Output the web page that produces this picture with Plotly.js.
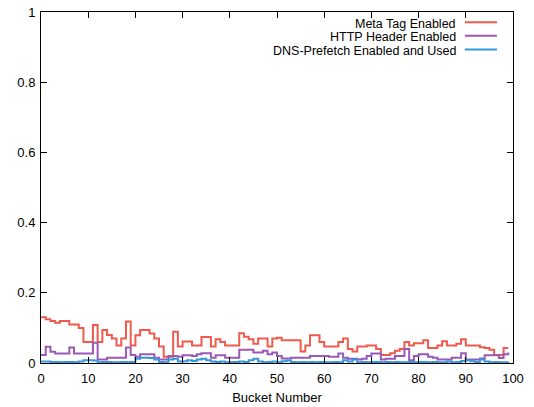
<!DOCTYPE html>
<html><head><meta charset="utf-8">
<script src="https://cdn.plot.ly/plotly-3.0.1.min.js"></script>
<style>html,body{margin:0;padding:0;background:#fff}#chart{width:534px;height:407px}</style>
</head><body><div id="chart"></div>
<script>
const seriesNames = ["Meta Tag Enabled", "HTTP Header Enabled", "DNS-Prefetch Enabled and Used"];
const buckets = Array.from({length: 100}, (_, i) => i);
const metaTag = [
 0.130,0.125,0.120,0.115,0.120,0.120,0.110,0.110,0.100,0.060,
 0.060,0.108,0.060,0.094,0.080,0.070,0.050,0.070,0.118,0.050,
 0.079,0.094,0.094,0.084,0.070,0.047,0.018,0.018,0.089,0.047,
 0.061,0.061,0.050,0.050,0.074,0.074,0.047,0.068,0.060,0.050,
 0.050,0.050,0.085,0.075,0.068,0.055,0.070,0.070,0.047,0.070,
 0.072,0.065,0.065,0.065,0.065,0.033,0.050,0.079,0.079,0.060,
 0.047,0.047,0.047,0.060,0.070,0.040,0.033,0.047,0.047,0.050,
 0.050,0.040,0.023,0.023,0.028,0.035,0.040,0.060,0.050,0.056,
 0.056,0.065,0.043,0.043,0.050,0.062,0.050,0.050,0.055,0.068,
 0.050,0.050,0.050,0.045,0.043,0.038,0.023,0.023,0.043,0.043
];
const httpHeader = [
 0.023,0.046,0.032,0.027,0.027,0.027,0.044,0.027,0.027,0.027,
 0.027,0.058,0.010,0.010,0.015,0.015,0.015,0.015,0.044,0.023,
 0.018,0.025,0.025,0.025,0.015,0.010,0.010,0.020,0.020,0.018,
 0.022,0.022,0.020,0.025,0.028,0.028,0.015,0.022,0.022,0.015,
 0.015,0.015,0.038,0.038,0.038,0.030,0.030,0.035,0.025,0.030,
 0.020,0.013,0.013,0.015,0.015,0.015,0.015,0.020,0.020,0.020,
 0.020,0.018,0.018,0.027,0.015,0.012,0.012,0.010,0.012,0.020,
 0.027,0.027,0.010,0.012,0.012,0.020,0.020,0.040,0.008,0.020,
 0.025,0.025,0.018,0.015,0.010,0.010,0.010,0.015,0.015,0.028,
 0.010,0.010,0.010,0.013,0.022,0.022,0.022,0.014,0.025,0.030
];
const dnsPrefetch = [
 0.004,0.004,0.003,0.003,0.002,0.003,0.003,0.002,0.004,0.008,
 0.008,0.007,0.002,0.003,0.003,0.002,0.002,0.003,0.002,0.003,
 0.012,0.015,0.015,0.014,0.010,0.003,0.002,0.010,0.012,0.004,
 0.005,0.008,0.006,0.010,0.012,0.008,0.004,0.003,0.004,0.002,
 0.003,0.003,0.004,0.003,0.008,0.012,0.004,0.002,0.003,0.004,
 0.002,0.005,0.007,0.003,0.002,0.003,0.002,0.003,0.002,0.003,
 0.002,0.002,0.003,0.002,0.008,0.004,0.010,0.002,0.003,0.002,
 0.003,0.003,0.002,0.003,0.002,0.003,0.002,0.002,0.003,0.002,
 0.003,0.003,0.002,0.003,0.002,0.002,0.004,0.002,0.003,0.006,
 0.008,0.005,0.003,0.010,0.004,0.002,0.003,0.002,0.002,0.003
];
const xTicks = [0,10,20,30,40,50,60,70,80,90,100];
const yTicks = [0,0.2,0.4,0.6,0.8,1];
const yTickText = ["0","0.2","0.4","0.6","0.8","1"];
const colors = ["#ee5a4c", "#9b59b6", "#3498db"];

const seriesData = [metaTag, httpHeader, dnsPrefetch];
const traces = seriesData.map((ys, i) => ({
  x: buckets, y: ys, type: 'scatter', mode: 'lines', name: seriesNames[i],
  line: {color: colors[i], width: 2, shape: 'hv'}, showlegend: false
}));

const font = {family: 'Liberation Sans, Arial, Helvetica, sans-serif', size: 13, color: '#000'};
const legendFont = {family: 'Liberation Sans, Arial, Helvetica, sans-serif', size: 12.5, color: '#000'};
const annotations = [];
const shapes = [];
const legendY = [0.967, 0.928, 0.889];
seriesNames.forEach((n, i) => {
  annotations.push({xref: 'paper', yref: 'paper', x: 0.881, y: legendY[i], xanchor: 'right', yanchor: 'middle',
    text: n, showarrow: false, font: legendFont, borderpad: 0});
  shapes.push({type: 'line', xref: 'paper', yref: 'paper', x0: 0.898, x1: 0.966, y0: legendY[i] + 0.004, y1: legendY[i] + 0.004,
    line: {color: colors[i], width: 2}});
});

const layout = {
  width: 534, height: 407,
  margin: {l: 41, r: 21, t: 12, b: 44},
  paper_bgcolor: '#fff', plot_bgcolor: '#fff',
  font: font,
  xaxis: {range: [0, 100], tickvals: xTicks, ticktext: xTicks.map(String), ticks: 'inside', ticklen: 6,
    tickcolor: '#000', showline: true, linecolor: '#000', linewidth: 1, mirror: 'allticks',
    ticklabelstandoff: 3,
    showgrid: false, zeroline: false, title: {text: 'Bucket Number', font: font, standoff: 8}},
  yaxis: {range: [0, 1], tickvals: yTicks, ticktext: yTickText, ticks: 'inside', ticklen: 6,
    tickcolor: '#000', showline: true, linecolor: '#000', linewidth: 1, mirror: 'allticks',
    ticklabelstandoff: 2,
    showgrid: false, zeroline: false},
  annotations: annotations, shapes: shapes
};
Plotly.newPlot('chart', traces, layout, {displayModeBar: false, staticPlot: true});
</script></body></html>
